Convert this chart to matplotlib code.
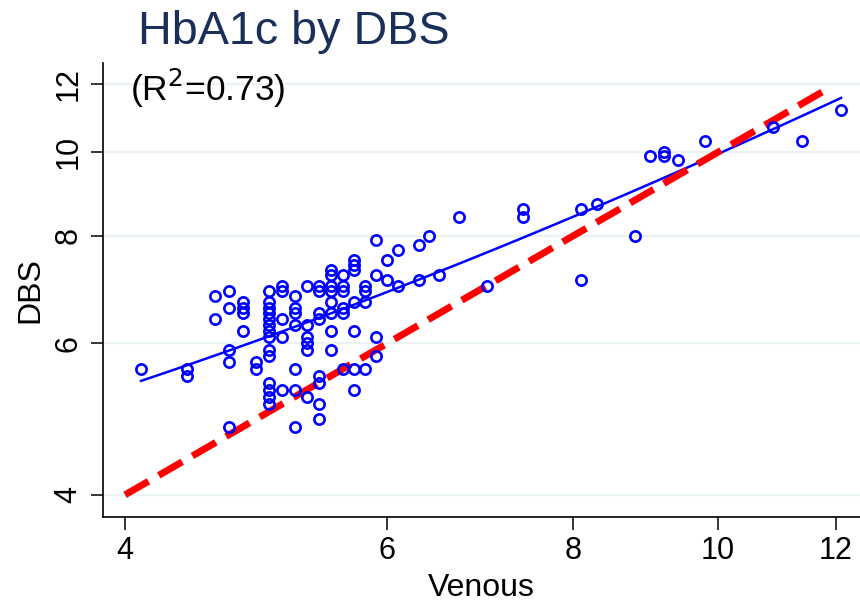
import numpy as np
import matplotlib
matplotlib.use("Agg")
import matplotlib.pyplot as plt
from matplotlib.ticker import FixedLocator, NullLocator

plt.rcParams['font.family'] = ['Liberation Sans', 'DejaVu Sans']

# venous HbA1c vs DBS HbA1c
venous = [4.1, 4.4, 4.4, 4.6, 4.6, 4.7, 4.7, 4.7, 4.7, 4.7,
          4.8, 4.8, 4.8, 4.8, 4.9, 4.9,
          5.0, 5.0, 5.0, 5.0, 5.0, 5.0, 5.0, 5.0, 5.0, 5.0, 5.0, 5.0, 5.0, 5.0,
          5.1, 5.1, 5.1, 5.1, 5.1,
          5.2, 5.2, 5.2, 5.2, 5.2, 5.2, 5.2,
          5.3, 5.3, 5.3, 5.3, 5.3, 5.3,
          5.4, 5.4, 5.4, 5.4, 5.4, 5.4, 5.4, 5.4,
          5.5, 5.5, 5.5, 5.5, 5.5, 5.5, 5.5, 5.5,
          5.6, 5.6, 5.6, 5.6, 5.6, 5.6,
          5.7, 5.7, 5.7, 5.7, 5.7, 5.7, 5.7,
          5.8, 5.8, 5.8, 5.8,
          5.9, 5.9, 5.9, 5.9,
          6.0, 6.0, 6.1, 6.1, 6.3, 6.3, 6.4, 6.5, 6.7, 7.0,
          7.4, 7.4, 8.1, 8.1, 8.3, 8.8, 9.0, 9.2, 9.2, 9.4, 9.8,
          10.9, 11.4, 12.1]
dbs = [5.6, 5.6, 5.5, 6.8, 6.4, 6.9, 6.6, 5.9, 5.7, 4.8,
       6.7, 6.6, 6.5, 6.2, 5.7, 5.6,
       6.9, 6.7, 6.6, 6.5, 6.4, 6.3, 6.2, 6.1, 5.9, 5.8, 5.4, 5.3, 5.2, 5.1,
       7.0, 6.9, 6.4, 6.1, 5.3,
       6.8, 6.6, 6.5, 6.3, 5.6, 5.3, 4.8,
       7.0, 6.3, 6.1, 6.0, 5.9, 5.2,
       7.0, 6.9, 6.5, 6.4, 5.5, 5.4, 5.1, 4.9,
       7.3, 7.2, 7.0, 6.9, 6.7, 6.5, 6.2, 5.9,
       7.2, 7.0, 6.9, 6.6, 6.5, 5.6,
       7.5, 7.4, 7.3, 6.7, 6.2, 5.6, 5.3,
       7.0, 6.9, 6.7, 5.6,
       7.9, 7.2, 6.1, 5.8,
       7.5, 7.1, 7.7, 7.0, 7.8, 7.1, 8.0, 7.2, 8.4, 7.0,
       8.6, 8.4, 8.6, 7.1, 8.7, 8.0, 9.9, 10.0, 9.9, 9.8, 10.3,
       10.7, 10.3, 11.2]

ticks = [4, 6, 8, 10, 12]
r2_text = "(R$^2$=0.73)"

x = np.array(venous)
y = np.array(dbs)
b, a = np.polyfit(x, y, 1)
xf = np.linspace(x.min(), x.max(), 50)
yf = a + b * xf

fig = plt.figure(figsize=(8.6, 6.05), dpi=100)
ax = fig.add_axes([0.1198, 0.1455, 0.8802, 0.7504])

ax.set_xscale('log')
ax.set_yscale('log')
ax.set_xlim(3.866, 12.46)
ax.set_ylim(3.77, 12.7)

for t in ticks:
    ax.axhline(t, color='#eaf2f3', lw=1.6, zorder=0)

ax.plot([4, 11.9], [4, 11.9], color='#ff0000', lw=5, ls=(0, (3.9, 1.7)),
        dash_capstyle='butt', zorder=3)
ax.plot(xf, yf, color='#0000ff', lw=1.8, zorder=2)
ax.plot(x, y, 'o', mfc='none', mec='#0000ff', ms=7.4, mew=1.9, zorder=4)

ax.xaxis.set_major_locator(FixedLocator(ticks))
ax.yaxis.set_major_locator(FixedLocator(ticks))
ax.xaxis.set_minor_locator(NullLocator())
ax.yaxis.set_minor_locator(NullLocator())
ax.set_xticklabels([str(t) for t in ticks], fontsize=22)
ax.set_yticklabels([str(t) for t in ticks], fontsize=22, rotation=90, va='center')
ax.tick_params(direction='out', length=9, width=1.1, pad=5)

for s in ['top', 'right']:
    ax.spines[s].set_visible(False)
for s in ['left', 'bottom']:
    ax.spines[s].set_linewidth(1.2)

ax.set_xlabel('Venous', fontsize=23, labelpad=5)
ax.set_ylabel('DBS', fontsize=23, labelpad=6)

fig.text(138 / 860, 1 - 32 / 605, 'HbA1c by DBS', fontsize=33.7,
         color='#1a2f5a', va='center', ha='left')
ax.text(130 / 860, 1 - 88 / 605, r2_text, fontsize=25.5, transform=fig.transFigure,
        va='center', ha='left')

fig.savefig('out.png', dpi=100)
